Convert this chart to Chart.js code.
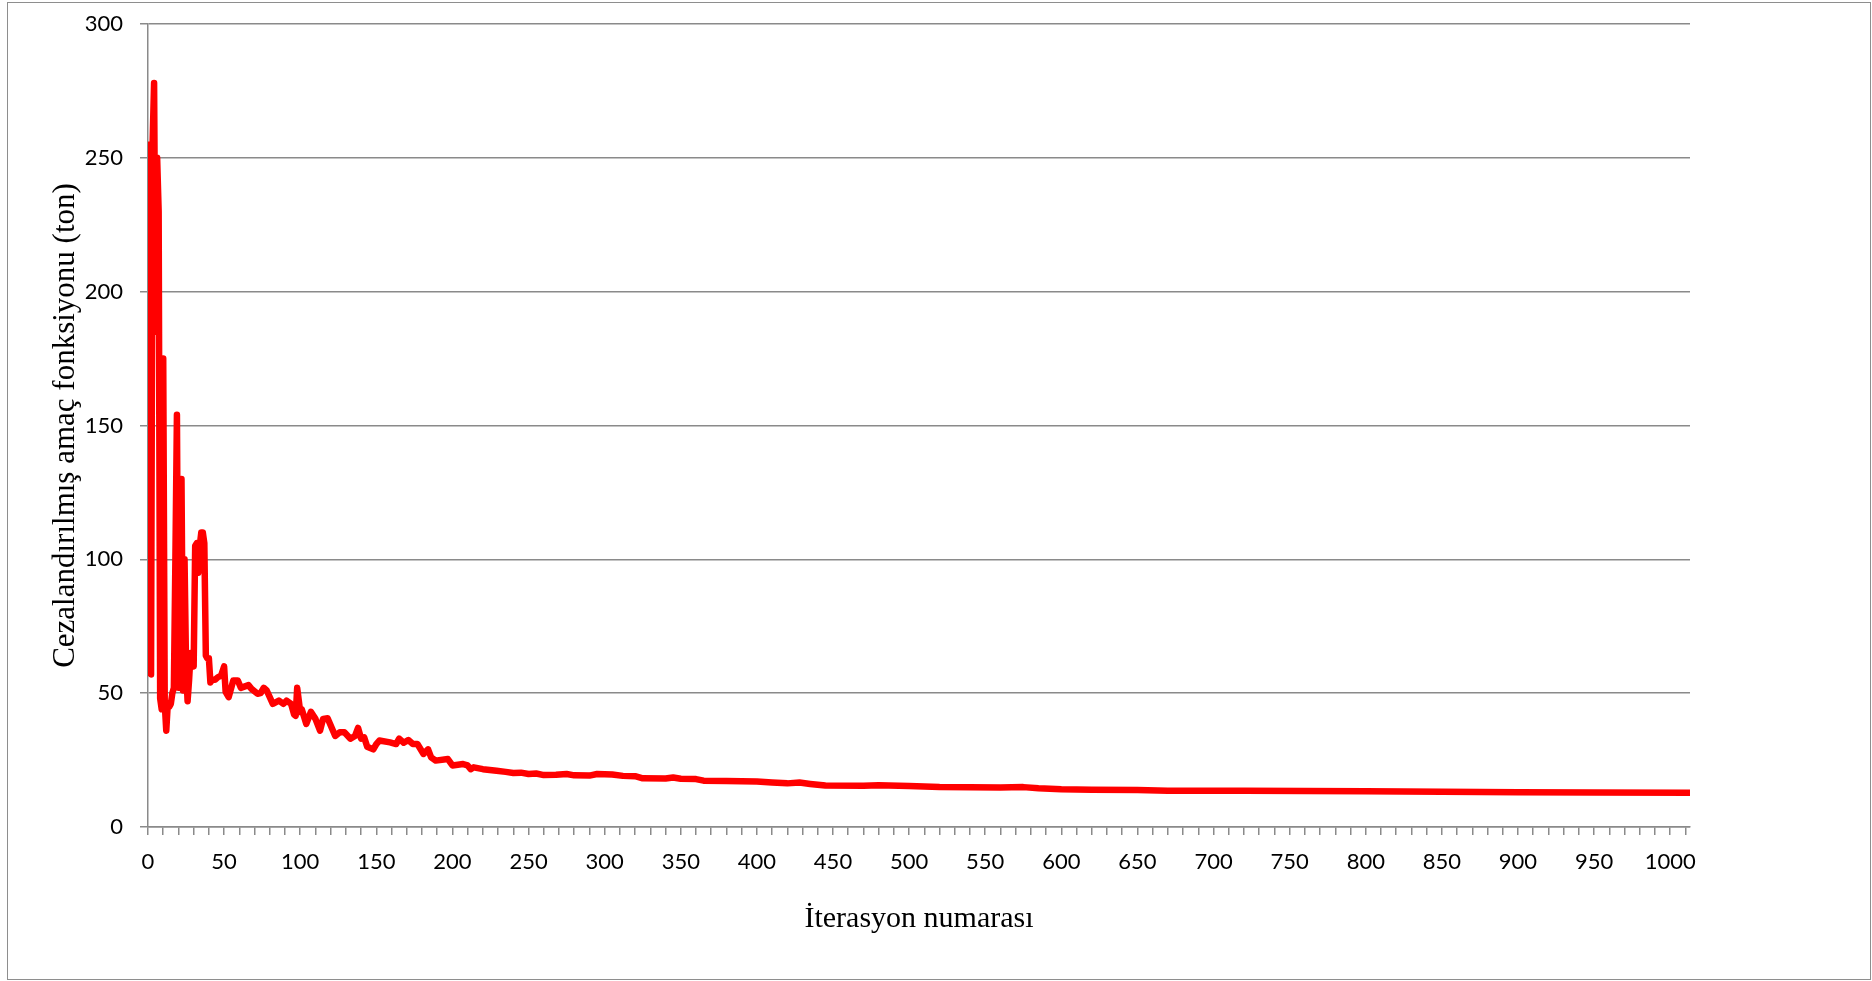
<!DOCTYPE html>
<html>
<head>
<meta charset="utf-8">
<script src="https://cdn.jsdelivr.net/npm/chart.js@4.4.1/dist/chart.umd.min.js"></script>
<style>
  html, body { margin: 0; padding: 0; background: #fff; }
  #wrap { position: relative; width: 1872px; height: 981px; }
  #frame { position: absolute; left: 7px; top: 2px; width: 1862px; height: 976px; border: 1.5px solid #8e8e8e; pointer-events: none; }
  canvas { position: absolute; left: 0; top: 0; }
</style>
</head>
<body>
<div id="wrap">
  <canvas id="conv-chart" width="1872" height="981"></canvas>
  <div id="frame"></div>
</div>
<script>
// iteration numbers and objective values
const iterations = [
  0, 1, 2, 3, 4, 5, 6, 7, 8, 9, 10, 11, 12, 13, 14, 15, 16, 17, 18, 19,
  20, 21, 22, 23, 24, 25, 26, 27, 28, 29, 30, 31, 32, 33, 34, 35, 36, 37, 38, 39,
  40, 41, 42, 44, 46, 48, 50, 51, 53, 56, 59, 61, 66, 68, 72, 74, 76, 78, 82, 86,
  89, 91, 94, 96, 97, 98, 100, 101, 104, 107, 110, 113, 115, 118, 123, 126, 129, 133, 136, 138,
  140, 142, 144, 148, 150, 152, 159, 163, 165, 168, 171, 174, 177, 181, 184, 186, 189, 197, 200, 207,
  210, 212, 214, 220, 229, 235, 240, 245, 250, 255, 260, 268, 275, 280, 290, 295, 305, 312, 320, 325,
  340, 345, 350, 360, 365, 380, 400, 410, 420, 428, 435, 445, 470, 480, 500, 520, 560, 575, 585, 600,
  620, 650, 670, 720, 800, 850, 900, 950, 1013
];
const objective = [
  87, 255, 57, 255, 278, 185, 250, 230, 48, 44, 175, 46, 36, 46, 45, 46, 50, 52, 100, 154,
  52, 52, 130, 51, 100, 60, 47, 55, 65, 62, 60, 105, 106, 95, 105, 110, 110, 106, 64, 63,
  63, 54, 55, 55, 56, 56.5, 60, 50.5, 48.5, 54.7, 54.7, 52, 53, 51.6, 49.8, 50, 52, 51, 46, 47.2,
  46, 47.2, 46, 42, 41.5, 52, 43, 44, 38.5, 43, 40.4, 36, 40.4, 40.6, 34, 35.4, 35.4, 33, 34, 37,
  33, 33.5, 30, 29, 31, 32.3, 31.6, 31, 33, 31.5, 32.5, 31, 31, 27.3, 29, 26, 24.8, 25.4, 23, 23.5,
  23, 21.6, 22.3, 21.6, 21, 20.6, 20.2, 20.3, 19.8, 20, 19.4, 19.5, 19.8, 19.3, 19.2, 19.8, 19.6, 19.1, 19, 18.2,
  18.1, 18.5, 18, 17.9, 17.3, 17.2, 17, 16.6, 16.3, 16.6, 16.1, 15.5, 15.4, 15.6, 15.3, 14.9, 14.8, 14.9, 14.5, 14.1,
  13.9, 13.8, 13.5, 13.5, 13.4, 13.2, 13, 12.9, 12.8
];
const yTicks = [0, 50, 100, 150, 200, 250, 300];

const axisGray = '#8a8a8a';
const tickFont = { family: 'Lato', size: 22 };

const points = iterations.map((it, i) => ({ x: it, y: objective[i] }));

const ctx = document.getElementById('conv-chart');
const ConvergenceChart = new Chart(ctx, {
  type: 'line',
  data: {
    datasets: [{
      data: points,
      borderColor: '#ff0000',
      borderWidth: 6.5,
      borderJoinStyle: 'round',
      borderCapStyle: 'round',
      pointRadius: 0,
      tension: 0,
      fill: false
    }]
  },
  options: {
    responsive: false,
    animation: false,
    layout: { padding: { left: 0, right: 182, top: 24, bottom: 0 } },
    plugins: { legend: { display: false }, tooltip: { enabled: false } },
    scales: {
      x: {
        type: 'linear',
        min: 0,
        max: 1013,
        afterFit: (scale) => { scale.height = 154; },
        border: { color: axisGray, width: 1.5 },
        grid: { drawOnChartArea: false, drawTicks: true, tickLength: 8, color: axisGray, lineWidth: 1.5 },
        ticks: {
          stepSize: 10,
          includeBounds: false,
          autoSkip: false,
          maxRotation: 0,
          padding: 14,
          color: '#000',
          font: tickFont,
          callback: (v) => (v % 50 === 0 ? String(v) : '')
        },
        title: {
          display: true,
          text: 'İterasyon numarası',
          color: '#000',
          font: { family: 'Liberation Serif', size: 30 },
          padding: { top: 4, bottom: 44 }
        }
      },
      y: {
        min: 0,
        max: 300,
        afterFit: (scale) => {
          scale.width = 148;
          // label padding must not push the plot area down
          scale.paddingTop = 0;
          scale.paddingBottom = 0;
        },
        afterBuildTicks: (scale) => { scale.ticks = yTicks.map(v => ({ value: v })); },
        border: { color: axisGray, width: 1.5 },
        grid: { color: axisGray, lineWidth: 1.5, drawTicks: true, tickLength: 8 },
        ticks: { padding: 17, color: '#000', font: tickFont },
        title: {
          display: true,
          text: 'Cezalandırılmış amaç fonksiyonu (ton)',
          color: '#000',
          font: { family: 'Liberation Serif', size: 31 },
          padding: { top: 47 }
        }
      }
    }
  }
});
</script>
</body>
</html>
